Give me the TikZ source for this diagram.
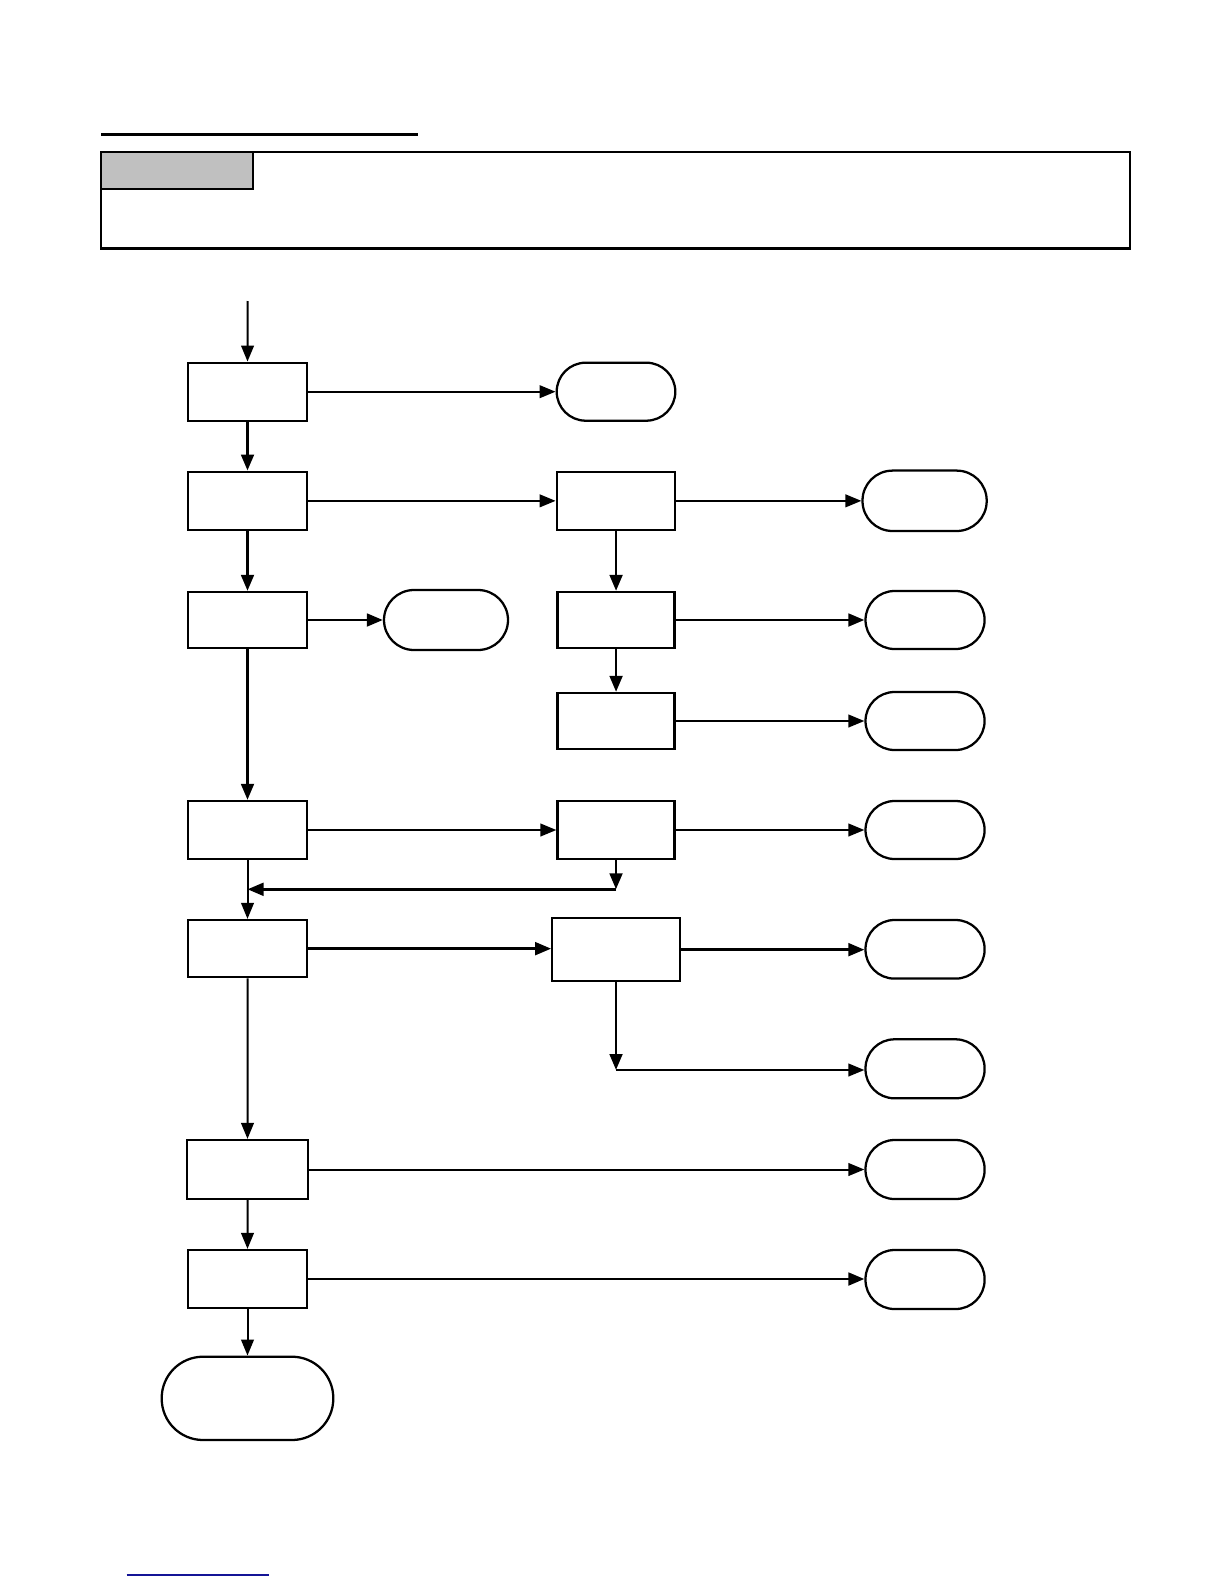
\documentclass[tikz,border=0pt]{standalone}
\usetikzlibrary{arrows.meta,fit}
\definecolor{hdrgray}{RGB}{192,192,192}
\definecolor{linkblue}{RGB}{20,20,150}
\tikzset{
  boxst/.style={draw, line width=1.7pt, inner sep=0pt, fill=white},
  termst/.style={draw, line width=1.7pt, inner sep=0pt, fill=white, rounded corners=#1},
  termst/.default=21.75pt,
  arr/.style={line width=1.5pt, -{Triangle[length=12pt,width=9.5pt]}},
  arrb/.style={line width=2.1pt, -{Triangle[length=12pt,width=9.5pt]}},
}
\newcommand\mybox[5]{\node[boxst, fit={(#2,#3) (#4,#5)}] (#1) {};}
\newcommand\myterm[6][21.75pt]{\node[termst=#1, fit={(#3,#4) (#5,#6)}] (#2) {};}
\begin{document}
\begin{tikzpicture}[x=0.75pt,y=-0.75pt]
\useasboundingbox (0,0) rectangle (1224,1584);
% header
\draw[line width=2.3pt] (101,134.3) -- (418.3,134.3);
\node[draw, line width=1.8pt, inner sep=0pt, fit={(101,152.3) (1130,248.3)}] (hdr) {};
\node[draw, line width=1.4pt, inner sep=0pt, fill=hdrgray, fit={(101,152.3) (253.3,189.3)}] (tab) {};
% column 1 boxes
\mybox{b1}{188.3}{362.7}{306.7}{420.7}
\mybox{b2}{188.3}{471.7}{306.7}{530}
\mybox{b3}{188.3}{592}{306.7}{648}
\mybox{b4}{188.3}{801}{306.7}{859}
\mybox{b5}{188.3}{920}{306.7}{977.3}
\mybox{b6}{187}{1140}{308}{1199}
\mybox{b7}{188.3}{1250}{306.7}{1308}
% column 2 boxes
\mybox{c2}{556.7}{471.7}{675.3}{530}
\mybox{c3}{557.5}{592}{674.6}{648}
\mybox{c3b}{557.5}{693}{674.6}{749}
\mybox{c4}{557.5}{801}{674.6}{859}
\mybox{c5}{552.3}{918.3}{680}{981}
% terminals
\myterm{t1}{556.7}{362.7}{675.3}{420.7}
\myterm[22.5pt]{t3}{384}{590}{508}{650}
\myterm[22.5pt]{t2}{862.5}{470.6}{986.7}{531}
\myterm{t3r}{865.5}{591}{984.6}{649}
\myterm{t3b}{865.5}{692}{984.6}{750}
\myterm{t4}{865.5}{801}{984.6}{859}
\myterm{t5}{865.5}{920}{984.6}{978.6}
\myterm{t6}{865.5}{1039.3}{984.6}{1098.3}
\myterm{t7}{865.5}{1140}{984.6}{1199}
\myterm{t8}{865.5}{1250}{984.6}{1309}
\myterm[31pt]{tend}{161.7}{1356.7}{333.3}{1440}
% connectors
\coordinate (start) at (247.7,301);
\draw[arr] (start) -- (b1.north);
\draw[arr] (b1.east) -- (t1.west);
\draw[arrb] (b1) -- (b2);
\draw[arr] (b2.east) -- (b2.east -| c2.west);
\draw[arr] (c2.east) -- (c2.east -| t2.west);
\draw[arrb] (b2) -- (b3);
\draw[arrb] (b3.east) -- (b3.east -| t3.west);
\draw[arrb] (b3) -- (b4);
\draw[arrb] (c2.south -| c3.north) -- (c3.north);
\draw[arrb] (c3.east) -- (c3.east -| t3r.west);
\draw[arrb] (c3) -- (c3b);
\draw[arr] (c3b.east) -- (c3b.east -| t3b.west);
\draw[arr] (b4.east) -- (b4.east -| c4.west);
\draw[arr] (c4.east) -- (c4.east -| t4.west);
\coordinate (fb) at (616,889.3);
\draw[arrb] (c4.south -| fb) -- (fb);
\draw[arrb] (fb) -- (fb -| b4.south);
\draw[arr] (b4) -- (b5);
\draw[arrb] (b5.east) -- (b5.east -| c5.west);
\draw[arrb] (c5.east) -- (c5.east -| t5.west);
\coordinate (j6) at (616,1070);
\draw[arrb] (c5.south -| j6) -- (j6);
\draw[arr] (j6) -- (j6 -| t6.west);
\draw[arr] (b5) -- (b6);
\draw[arr] (b6.east) -- (b6.east -| t7.west);
\draw[arr] (b6) -- (b7);
\draw[arrb] (b7.east) -- (b7.east -| t8.west);
\draw[arr] (b7) -- (tend);
% footer line
\draw[linkblue, line width=0.9pt] (126.7,1575) -- (269,1575);
\end{tikzpicture}
\end{document}
